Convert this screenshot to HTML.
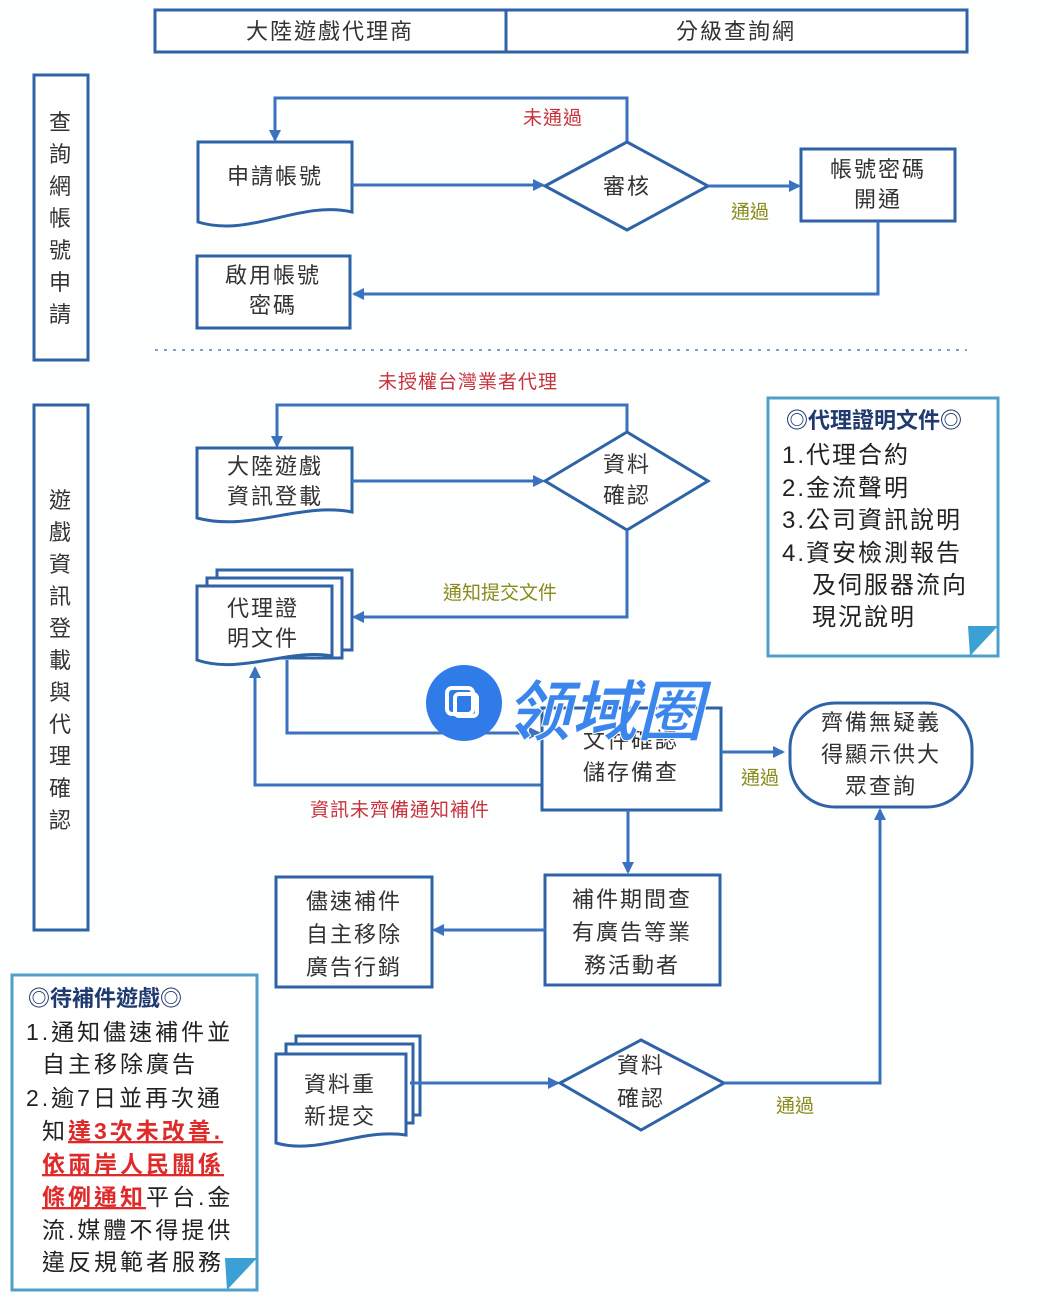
<!DOCTYPE html>
<html><head><meta charset="utf-8"><style>
html,body{margin:0;padding:0;background:#fff;}
svg{display:block;}
text{font-family:"Liberation Sans","Noto Sans CJK TC",sans-serif;}
.t{font-size:22px;fill:#333;text-anchor:middle;letter-spacing:2px;}
.b{fill:#fff;stroke:#2f63a8;stroke-width:3;}
.l{fill:none;stroke:#3a72c0;stroke-width:3;}
.red{font-size:19px;fill:#c8323c;text-anchor:middle;letter-spacing:1px;}
.ok{font-size:19px;fill:#8a8a1a;text-anchor:middle;}
.n{font-size:23px;fill:#222;letter-spacing:3px;}
.m{font-size:24px;fill:#222;letter-spacing:2px;}
</style></head><body>
<svg width="1040" height="1314" viewBox="0 0 1040 1314" xmlns="http://www.w3.org/2000/svg">
<defs><marker id="a" markerWidth="12" markerHeight="12" refX="10" refY="6" orient="auto" markerUnits="userSpaceOnUse"><path d="M0,0 L12,6 L0,12 z" fill="#3a72c0"/></marker></defs>
<rect width="1040" height="1314" fill="#fdfefe"/>
<!-- header -->
<rect x="155" y="10" width="812" height="42" class="b"/>
<line x1="506" y1="10" x2="506" y2="52" stroke="#2f63a8" stroke-width="3"/>
<text x="330" y="39" class="t">大陸遊戲代理商</text>
<text x="736" y="39" class="t">分級查詢網</text>
<!-- left lanes -->
<rect x="34" y="75" width="54" height="285" class="b"/>
<g class="t"><text x="61" y="130">查</text><text x="61" y="162">詢</text><text x="61" y="194">網</text><text x="61" y="226">帳</text><text x="61" y="258">號</text><text x="61" y="290">申</text><text x="61" y="322">請</text></g>
<rect x="34" y="405" width="54" height="525" class="b"/>
<g class="t"><text x="61" y="508">遊</text><text x="61" y="540">戲</text><text x="61" y="572">資</text><text x="61" y="604">訊</text><text x="61" y="636">登</text><text x="61" y="668">載</text><text x="61" y="700">與</text><text x="61" y="732">代</text><text x="61" y="764">理</text><text x="61" y="796">確</text><text x="61" y="828">認</text></g>
<!-- section 1 -->
<path d="M627,142 L627,98 L275,98 L275,140" class="l" marker-end="url(#a)"/>
<text x="553" y="124" class="red">未通過</text>
<path d="M198,142 H352 V212 C300,200 250,238 198,222 Z" class="b"/>
<text x="275" y="184" class="t">申請帳號</text>
<line x1="352" y1="185" x2="543" y2="185" class="l" marker-end="url(#a)"/>
<polygon points="545,186 627,142 708,186 627,230" class="b"/>
<text x="627" y="194" class="t">審核</text>
<line x1="708" y1="186" x2="799" y2="186" class="l" marker-end="url(#a)"/>
<text x="750" y="218" class="ok">通過</text>
<rect x="801" y="149" width="154" height="72" class="b"/>
<text x="878" y="177" class="t">帳號密碼</text><text x="878" y="207" class="t">開通</text>
<path d="M878,221 V294 H354" class="l" marker-end="url(#a)"/>
<rect x="197" y="256" width="153" height="72" class="b"/>
<text x="273" y="283" class="t">啟用帳號</text><text x="273" y="313" class="t">密碼</text>
<line x1="155" y1="350" x2="967" y2="350" stroke="#7aa0c8" stroke-width="2" stroke-dasharray="3,6"/>
<!-- section 2 -->
<text x="468" y="388" class="red">未授權台灣業者代理</text>
<path d="M627,432 L627,405 L277,405 L277,446" class="l" marker-end="url(#a)"/>
<path d="M197,448 H352 V512 C300,502 250,532 197,518 Z" class="b"/>
<text x="275" y="474" class="t">大陸遊戲</text><text x="275" y="504" class="t">資訊登載</text>
<line x1="352" y1="481" x2="543" y2="481" class="l" marker-end="url(#a)"/>
<polygon points="545,481 627,432 708,481 627,530" class="b"/>
<text x="627" y="472" class="t">資料</text><text x="627" y="503" class="t">確認</text>
<path d="M627,530 V617 H354" class="l" marker-end="url(#a)"/>
<text x="500" y="599" class="ok">通知提交文件</text>
<path d="M217,570 H352 V650 H217 Z" class="b"/>
<path d="M207,578 H342 V658 H207 Z" class="b"/>
<path d="M197,586 H332 V656 C290,648 240,675 197,660 Z" class="b"/>
<text x="263" y="616" class="t">代理證</text><text x="263" y="646" class="t">明文件</text>
<!-- proof doc note -->
<rect x="768" y="398" width="230" height="258" fill="#fff" stroke="#4fa0c8" stroke-width="3"/>
<path d="M968,626 L998,626 L970,656 Z" fill="#3ba0d4"/>
<text x="786" y="428" font-size="22" fill="#1e3a6e" font-weight="bold">◎代理證明文件◎</text>
<text x="782" y="463" class="m">1.代理合約</text>
<text x="782" y="496" class="m">2.金流聲明</text>
<text x="782" y="528" class="m">3.公司資訊說明</text>
<text x="782" y="561" class="m">4.資安檢測報告</text>
<text x="812" y="593" class="m">及伺服器流向</text>
<text x="812" y="625" class="m">現況說明</text>
<!-- doc confirm -->
<path d="M287,660 V733 H539" class="l" marker-end="url(#a)"/>
<path d="M541,785 H255 V668" class="l" marker-end="url(#a)"/>
<text x="400" y="816" class="red">資訊未齊備通知補件</text>
<rect x="542" y="708" width="179" height="102" class="b"/>
<text x="631" y="748" class="t">文件確認</text><text x="631" y="780" class="t">儲存備查</text>
<line x1="721" y1="752" x2="783" y2="752" class="l" marker-end="url(#a)"/>
<text x="760" y="784" class="ok">通過</text>
<rect x="790" y="703" width="182" height="104" rx="45" class="b"/>
<text x="881" y="730" class="t">齊備無疑義</text><text x="881" y="762" class="t">得顯示供大</text><text x="881" y="794" class="t">眾查詢</text>
<line x1="628" y1="810" x2="628" y2="872" class="l" marker-end="url(#a)"/>
<rect x="545" y="875" width="175" height="110" class="b"/>
<text x="632" y="907" class="t">補件期間查</text><text x="632" y="940" class="t">有廣告等業</text><text x="632" y="973" class="t">務活動者</text>
<line x1="545" y1="930" x2="434" y2="930" class="l" marker-end="url(#a)"/>
<rect x="276" y="877" width="156" height="110" class="b"/>
<text x="354" y="909" class="t">儘速補件</text><text x="354" y="942" class="t">自主移除</text><text x="354" y="975" class="t">廣告行銷</text>
<!-- pending note -->
<rect x="12" y="975" width="245" height="315" fill="#fff" stroke="#4fa0c8" stroke-width="3"/>
<path d="M225,1258 L257,1258 L227,1290 Z" fill="#3ba0d4"/>
<text x="28" y="1006" font-size="22" fill="#1e3a6e" font-weight="bold">◎待補件遊戲◎</text>
<text x="26" y="1040" class="n">1.通知儘速補件並</text>
<text x="42" y="1072" class="n">自主移除廣告</text>
<text x="26" y="1106" class="n">2.逾7日並再次通</text>
<text x="42" y="1139" class="n">知<tspan style="fill:#e02a2a" font-weight="bold" text-decoration="underline">達3次未改善.</tspan></text>
<text x="42" y="1172" class="n" style="fill:#e02a2a" font-weight="bold" text-decoration="underline">依兩岸人民關係</text>
<text x="42" y="1205" class="n"><tspan style="fill:#e02a2a" font-weight="bold" text-decoration="underline">條例通知</tspan>平台.金</text>
<text x="42" y="1238" class="n">流.媒體不得提供</text>
<text x="42" y="1270" class="n">違反規範者服務</text>
<!-- resubmit -->
<path d="M296,1036 H420 V1115 H296 Z" class="b"/>
<path d="M286,1044 H413 V1123 H286 Z" class="b"/>
<path d="M276,1054 H406 V1135 C360,1128 320,1155 276,1143 Z" class="b"/>
<text x="340" y="1092" class="t">資料重</text><text x="340" y="1124" class="t">新提交</text>
<line x1="410" y1="1083" x2="558" y2="1083" class="l" marker-end="url(#a)"/>
<polygon points="560,1083 641,1040 724,1083 641,1130" class="b"/>
<text x="641" y="1073" class="t">資料</text><text x="641" y="1106" class="t">確認</text>
<path d="M724,1083 H880 V810" class="l" marker-end="url(#a)"/>
<text x="795" y="1112" class="ok">通過</text>
<!-- watermark -->
<circle cx="464" cy="703" r="38" fill="#2f7be8"/>
<rect x="447" y="688" width="26" height="26" rx="5" fill="none" stroke="#fff" stroke-width="4"/>
<rect x="455" y="694" width="22" height="22" rx="4" fill="none" stroke="#fff" stroke-width="4"/>
<text x="505" y="735" font-size="66" font-weight="bold" font-style="italic" fill="#3a86ec" stroke="#fff" stroke-width="1">领域圈</text>
</svg>
</body></html>
